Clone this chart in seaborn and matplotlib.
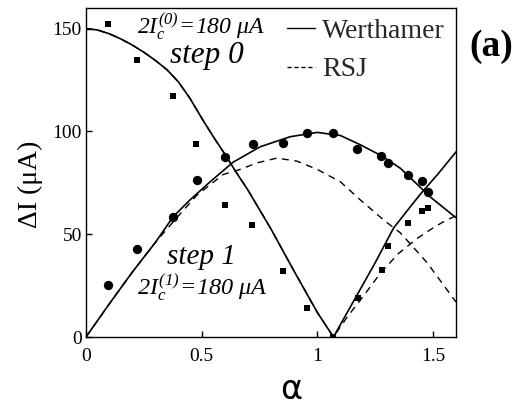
import numpy as np
import pandas as pd
import seaborn as sns
import matplotlib.pyplot as plt
from matplotlib.lines import Line2D

sns.set_theme(style="ticks")
plt.rcParams['font.family'] = ['Liberation Serif', 'DejaVu Sans']
plt.rcParams['mathtext.fontset'] = 'custom'
plt.rcParams['mathtext.rm'] = 'Liberation Serif:italic'
plt.rcParams['mathtext.it'] = 'Liberation Serif:italic'

# measured step widths: step 0 (squares), step 1 (circles)
alpha_sq = [0.097, 0.22, 0.375, 0.476, 0.602, 0.719, 0.853, 0.957, 1.07, 1.178, 1.281, 1.308, 1.394, 1.455, 1.48]
dI_sq = [152, 134.5, 117, 94, 64.3, 54.6, 32.2, 14, 0, 19, 32.6, 44.3, 55.5, 61.4, 62.8]
alpha_circ = [0.095, 0.22, 0.377, 0.48, 0.602, 0.72, 0.853, 0.957, 1.068, 1.173, 1.277, 1.308, 1.394, 1.455, 1.481]
dI_circ = [25.3, 43, 58.5, 76.5, 87.7, 94, 94.5, 99.4, 99.4, 91.6, 88.2, 84.7, 78.9, 76, 70.6]

# Werthamer curves (solid)
alpha_w0 = [0, 0.05, 0.1, 0.15, 0.2, 0.25, 0.3, 0.35, 0.4, 0.45, 0.5, 0.55, 0.6, 0.65, 0.7, 0.8, 0.9, 1.0, 1.07,
            1.15, 1.25, 1.33, 1.4, 1.45, 1.52, 1.6]
dI_w0 = [150, 149.3, 147.5, 145, 142, 138.5, 134.5, 130, 124, 116, 106.5, 97.5, 89, 80, 71.5, 52.5, 32, 12, 0,
         16, 36, 53, 63, 70, 79, 90]
alpha_w1 = [0, 0.1, 0.2, 0.3, 0.377, 0.45, 0.537, 0.636, 0.753, 0.883, 1.0, 1.1, 1.186, 1.28, 1.36, 1.49, 1.6]
dI_w1 = [0, 16, 31.5, 46, 58.5, 66.7, 75.5, 85, 92.5, 97.4, 99.5, 98, 93.5, 88, 82, 68, 58]

# RSJ curves (dashed)
alpha_r0 = [0, 0.05, 0.1, 0.15, 0.2, 0.25, 0.3, 0.35, 0.4, 0.45, 0.5, 0.55, 0.6, 0.65, 0.7, 0.8, 0.9, 1.0, 1.07,
            1.13, 1.2, 1.273, 1.35, 1.433, 1.5, 1.545, 1.6]
dI_r0 = [150, 149.3, 147.5, 145, 142, 138.5, 134.5, 130, 124, 116, 106.5, 97.5, 89, 80, 71.5, 52.5, 32, 12, 0,
         9.8, 20, 31, 40.5, 48, 53, 56, 59]
alpha_r1 = [0, 0.1, 0.2, 0.3, 0.4, 0.48, 0.593, 0.667, 0.74, 0.826, 0.913, 1.0, 1.1, 1.186, 1.286, 1.36, 1.476, 1.6]
dI_r1 = [0, 16, 31.5, 46, 59, 69, 79, 81.5, 84.7, 87, 85.5, 81.5, 75.5, 66.7, 57, 50.6, 36, 17]

xticks = [0, 0.5, 1, 1.5]
xticklabels = ['0', '0.5', '1', '1.5']
yticks = [0, 50, 100, 150]

fig = plt.figure(figsize=(5.27, 4.11), dpi=100)
ax = fig.add_axes([86/527, 1-337/411, 370/527, 329/411])

for a, d in [(alpha_w0, dI_w0), (alpha_w1, dI_w1)]:
    sns.lineplot(x=a, y=d, ax=ax, color='black', lw=1.2, sort=False, estimator=None)
for a, d in [(alpha_r0, dI_r0), (alpha_r1, dI_r1)]:
    l = sns.lineplot(x=a, y=d, ax=ax, color='black', lw=1.0, sort=False, estimator=None)
    l.lines[-1].set_dashes((5, 4))

sns.scatterplot(x=alpha_sq, y=dI_sq, ax=ax, marker='s', s=16, color='black', edgecolor='black', linewidth=0)
sns.scatterplot(x=alpha_circ, y=dI_circ, ax=ax, marker='o', s=45, color='black', edgecolor='black', linewidth=0)

ax.set_xlim(0, 1.6)
ax.set_ylim(0, 160)
ax.set_xticks(xticks)
ax.set_xticklabels(xticklabels)
ax.set_yticks(yticks)
ax.tick_params(direction='in', length=4, width=1, color='black', labelsize=14, labelcolor='black', pad=3)
ax.tick_params(axis='x', pad=8)
for sp in ax.spines.values():
    sp.set_visible(True)
    sp.set_color('black')
    sp.set_linewidth(1.0)

ax.set_ylabel('ΔI (μA)', fontsize=20, color='black', va='center')
ax.yaxis.set_label_coords((30-86)/370, (337-184)/329)
ax.set_xlabel('α', fontsize=24, family=['DejaVu Sans'], color='black', va='center')
ax.xaxis.set_label_coords((291-86)/370, (337-389)/329)

ax.text(0.22, 151, r'$2I_c^{(0)}\!=\!180\ \mu A$', fontsize=17, color='black', va='center', ha='left')
ax.text(0.365, 137, 'step 0', fontsize=22.5, style='italic', color='black', va='center', ha='left')
ax.text(0.35, 39, 'step 1', fontsize=21, style='italic', color='black', va='center', ha='left')
ax.text(0.22, 24, r'$2I_c^{(1)}\!=\!180\ \mu A$', fontsize=17.5, color='black', va='center', ha='left')

handles = [Line2D([], [], color='black', lw=1.0),
           Line2D([], [], color='black', lw=1.0, dashes=(3, 2))]
ax.legend(handles, ['Werthamer', 'RSJ'], loc='upper right', frameon=False, fontsize=20,
          handlelength=1.0, handletextpad=0.25, borderaxespad=0.0, labelspacing=0.47,
          bbox_to_anchor=(1.0, 1.002))

fig.text(491/527, 1-47/411, '(a)', fontsize=27, weight='bold', color='black', ha='center', va='center')

fig.savefig('out.png', dpi=100, facecolor='white')
